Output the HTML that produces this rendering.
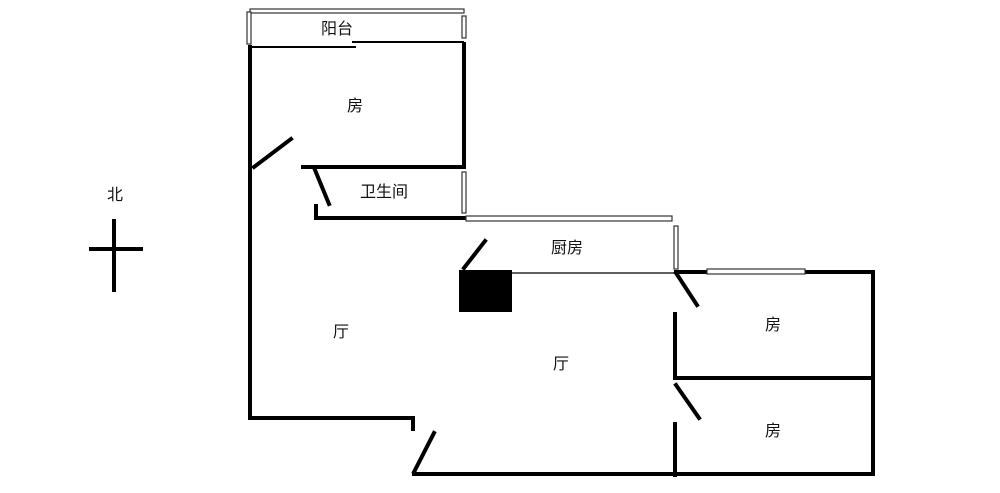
<!DOCTYPE html>
<html><head><meta charset="utf-8"><style>
html,body{margin:0;padding:0;background:#fff;}
svg{display:block}
text{font-family:"Liberation Sans","Noto Sans CJK SC",sans-serif;font-size:16px;fill:#111;}
</style></head><body>
<svg width="1000" height="493" viewBox="0 0 1000 493" xmlns="http://www.w3.org/2000/svg">
<g stroke="#000" stroke-width="4" fill="none" stroke-linecap="square">
<!-- left main wall -->
<line x1="250" y1="47" x2="250" y2="418"/>
<line x1="250" y1="418" x2="413" y2="418"/>
<line x1="413" y1="418" x2="413" y2="429"/>
<!-- room right wall -->
<line x1="464" y1="44" x2="464" y2="167"/>
<!-- bathroom -->
<line x1="303" y1="167" x2="464" y2="167"/>
<line x1="316" y1="206" x2="316" y2="218"/>
<line x1="316" y1="218" x2="464" y2="218"/>
<!-- doors -->
<line x1="254" y1="167" x2="291" y2="139"/>
<line x1="315" y1="170" x2="329" y2="204"/>
<line x1="464" y1="268" x2="485" y2="241"/>
<line x1="676" y1="273" x2="697" y2="305"/>
<line x1="676" y1="385" x2="699" y2="418"/>
<line x1="414" y1="472" x2="434" y2="433"/>
<!-- right block -->
<line x1="676" y1="272" x2="707" y2="272"/>
<line x1="805" y1="272" x2="873" y2="272"/>
<line x1="873" y1="272" x2="873" y2="474"/>
<line x1="675" y1="314" x2="675" y2="378"/>
<line x1="675" y1="378" x2="873" y2="378"/>
<line x1="675" y1="424" x2="675" y2="475"/>
<line x1="414" y1="474" x2="873" y2="474"/>
<!-- compass -->
<line x1="91" y1="249" x2="141" y2="249"/>
<line x1="114" y1="221" x2="114" y2="290"/>
</g>
<g stroke="#000" stroke-width="2" fill="none">
<line x1="250" y1="47" x2="356" y2="47"/>
<line x1="352" y1="42" x2="464" y2="42"/>
<line x1="512" y1="273" x2="676" y2="273" stroke-width="1.2"/>
</g>
<!-- windows -->
<g stroke="#333" stroke-width="1.2" fill="#fff">
<rect x="250" y="9" width="214" height="4"/>
<rect x="247" y="12" width="4" height="32"/>
<rect x="462" y="16" width="4" height="22"/>
<rect x="462" y="172" width="4" height="41"/>
<rect x="466" y="216" width="206" height="5"/>
<rect x="674" y="226" width="4" height="43"/>
<rect x="707" y="269" width="98" height="5"/>
</g>
<rect x="459" y="270" width="53" height="42" fill="#000"/>
<text x="321" y="34">阳台</text>
<text x="347" y="111">房</text>
<text x="360" y="197">卫生间</text>
<text x="551" y="253">厨房</text>
<text x="333" y="337">厅</text>
<text x="553" y="369">厅</text>
<text x="765" y="330">房</text>
<text x="765" y="436">房</text>
<text x="107" y="200">北</text>
</svg>
</body></html>
